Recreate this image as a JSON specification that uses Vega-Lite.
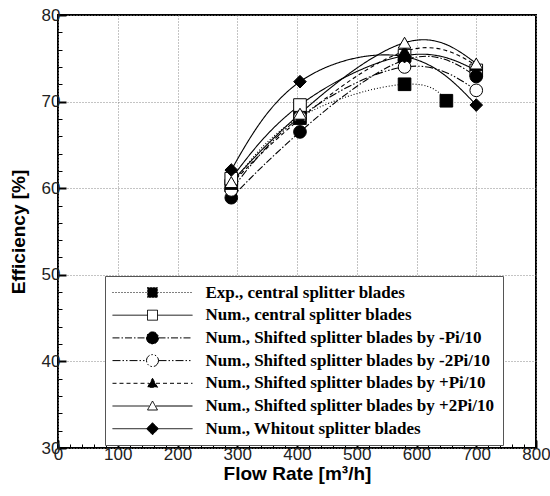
{
  "$schema": "https://vega.github.io/schema/vega-lite/v6.json",
  "width": 478,
  "height": 433,
  "autosize": {"type": "none"},
  "padding": {"left": 58, "top": 15, "right": 14, "bottom": 48},
  "background": "white",
  "config": {
    "view": {"stroke": "black", "strokeWidth": 2},
    "axis": {
      "domain": false,
      "ticks": true,
      "tickColor": "black",
      "tickOpacity": 1,
      "labelFont": "Liberation Sans",
      "labelFontSize": 17,
      "labelColor": "#222",
      "titleFont": "Liberation Sans",
      "titleFontSize": 19,
      "titleFontWeight": "bold",
      "titleColor": "black",
      "gridColor": "#888",
      "gridDash": [1, 2],
      "gridWidth": 1,
      "labelOverlap": false,
      "labelFlush": false,
      "tickCount": 200,
      "zindex": 1
    }
  },
  "datasets": {
    "curves": [
      {"series": "Exp., central splitter blades", "flow": 290, "eff": 60.3},
      {"series": "Exp., central splitter blades", "flow": 405, "eff": 68.2},
      {"series": "Exp., central splitter blades", "flow": 580, "eff": 72.0},
      {"series": "Exp., central splitter blades", "flow": 650, "eff": 70.1},
      {"series": "Num., central splitter blades", "flow": 290, "eff": 61.1},
      {"series": "Num., central splitter blades", "flow": 405, "eff": 69.6},
      {"series": "Num., central splitter blades", "flow": 580, "eff": 75.3},
      {"series": "Num., central splitter blades", "flow": 700, "eff": 73.6},
      {"series": "Num., Shifted splitter blades by -Pi/10", "flow": 290, "eff": 58.9},
      {"series": "Num., Shifted splitter blades by -Pi/10", "flow": 405, "eff": 66.5},
      {"series": "Num., Shifted splitter blades by -Pi/10", "flow": 580, "eff": 74.8},
      {"series": "Num., Shifted splitter blades by -Pi/10", "flow": 700, "eff": 72.9},
      {"series": "Num., Shifted splitter blades by -2Pi/10", "flow": 290, "eff": 59.8},
      {"series": "Num., Shifted splitter blades by -2Pi/10", "flow": 405, "eff": 68.2},
      {"series": "Num., Shifted splitter blades by -2Pi/10", "flow": 580, "eff": 74.0},
      {"series": "Num., Shifted splitter blades by -2Pi/10", "flow": 700, "eff": 71.3},
      {"series": "Num., Shifted splitter blades by +Pi/10", "flow": 290, "eff": 60.5},
      {"series": "Num., Shifted splitter blades by +Pi/10", "flow": 405, "eff": 68.0},
      {"series": "Num., Shifted splitter blades by +Pi/10", "flow": 580, "eff": 75.8},
      {"series": "Num., Shifted splitter blades by +Pi/10", "flow": 700, "eff": 74.2},
      {"series": "Num., Shifted splitter blades by +2Pi/10", "flow": 290, "eff": 60.7},
      {"series": "Num., Shifted splitter blades by +2Pi/10", "flow": 405, "eff": 68.6},
      {"series": "Num., Shifted splitter blades by +2Pi/10", "flow": 580, "eff": 76.8},
      {"series": "Num., Shifted splitter blades by +2Pi/10", "flow": 700, "eff": 74.4},
      {"series": "Num., Whitout splitter blades", "flow": 290, "eff": 62.1},
      {"series": "Num., Whitout splitter blades", "flow": 405, "eff": 72.3},
      {"series": "Num., Whitout splitter blades", "flow": 580, "eff": 75.2},
      {"series": "Num., Whitout splitter blades", "flow": 700, "eff": 69.6}
    ]
  },
  "data": {"name": "curves"},
  "resolve": {
    "scale": {"shape": "independent", "fill": "independent", "strokeDash": "independent", "stroke": "independent"},
    "axis": {"x": "independent", "y": "independent"}
  },
  "layer": [
    {
      "mark": {"type": "line", "interpolate": "natural", "color": "black", "strokeWidth": 1.1},
      "encoding": {
        "x": {
          "field": "flow", "type": "quantitative",
          "scale": {"domain": [0, 800], "nice": false, "zero": false},
          "axis": {
            "orient": "bottom",
            "title": "Flow Rate [m³/h]",
            "format": "d",
            "values": [0, 100, 200, 300, 400, 500, 600, 700, 800],
            "offset": -8,
            "tickSize": 8,
            "tickWidth": 2,
            "grid": true,
            "labelPadding": -2,
            "titlePadding": 2
          }
        },
        "y": {
          "field": "eff", "type": "quantitative",
          "scale": {"domain": [30, 80], "nice": false, "zero": false},
          "axis": {
            "orient": "left",
            "title": "Efficiency [%]",
            "format": "d",
            "values": [30, 40, 50, 60, 70, 80],
            "offset": -8,
            "tickSize": 8,
            "tickWidth": 2,
            "grid": true,
            "labelPadding": -2,
            "titlePadding": 13
          }
        },
        "detail": {"field": "series"},
        "strokeDash": {
          "field": "series", "type": "nominal", "legend": null,
          "scale": {
            "domain": ["Exp., central splitter blades", "Num., central splitter blades", "Num., Shifted splitter blades by -Pi/10", "Num., Shifted splitter blades by -2Pi/10", "Num., Shifted splitter blades by +Pi/10", "Num., Shifted splitter blades by +2Pi/10", "Num., Whitout splitter blades"],
            "range": [[1, 2], [1, 0], [7, 2, 1.5, 2], [8, 2, 1.5, 2, 1.5, 2], [4, 3], [1, 0], [1, 0]]
          }
        }
      }
    },
    {
      "mark": {"type": "point", "filled": true, "stroke": "black", "strokeWidth": 1, "size": 160, "opacity": 1},
      "encoding": {
        "x": {
          "field": "flow", "type": "quantitative",
          "axis": {
            "orient": "bottom",
            "title": null,
            "labels": false,
            "grid": false,
            "domain": false,
            "values": [20,40,60,80,120,140,160,180,220,240,260,280,320,340,360,380,420,440,460,480,520,540,560,580,620,640,660,680,720,740,760,780],
            "offset": -4,
            "tickSize": 4,
            "tickWidth": 1
          }
        },
        "y": {
          "field": "eff", "type": "quantitative",
          "axis": {
            "orient": "left",
            "title": null,
            "labels": false,
            "grid": false,
            "domain": false,
            "values": [32,34,36,38,42,44,46,48,52,54,56,58,62,64,66,68,72,74,76,78],
            "offset": -4,
            "tickSize": 4,
            "tickWidth": 1
          }
        },
        "shape": {
          "field": "series", "type": "nominal", "legend": null,
          "scale": {
            "domain": ["Exp., central splitter blades", "Num., central splitter blades", "Num., Shifted splitter blades by -Pi/10", "Num., Shifted splitter blades by -2Pi/10", "Num., Shifted splitter blades by +Pi/10", "Num., Shifted splitter blades by +2Pi/10", "Num., Whitout splitter blades"],
            "range": ["square", "square", "circle", "circle", "triangle-up", "triangle-up", "diamond"]
          }
        },
        "fill": {
          "field": "series", "type": "nominal", "legend": null,
          "scale": {
            "domain": ["Exp., central splitter blades", "Num., central splitter blades", "Num., Shifted splitter blades by -Pi/10", "Num., Shifted splitter blades by -2Pi/10", "Num., Shifted splitter blades by +Pi/10", "Num., Shifted splitter blades by +2Pi/10", "Num., Whitout splitter blades"],
            "range": ["black", "white", "black", "white", "black", "white", "black"]
          }
        }
      }
    },
    {
      "transform": [{"filter": "false"}],
      "mark": {"type": "point", "filled": true, "strokeWidth": 1, "size": 121, "opacity": 1},
      "encoding": {
        "shape": {
          "field": "series", "type": "nominal",
          "scale": {
            "domain": ["Exp., central splitter blades", "Num., central splitter blades", "Num., Shifted splitter blades by -Pi/10", "Num., Shifted splitter blades by -2Pi/10", "Num., Shifted splitter blades by +Pi/10", "Num., Shifted splitter blades by +2Pi/10", "Num., Whitout splitter blades"],
            "range": [
              "M-8,0H-1M1,0H8M-1,-1H1V1H-1Z",
              "M-8,0H-1M1,0H8M-1,-1H1V1H-1Z",
              "M-8,0H-1.2M1.2,0H8M1.2,0A1.2,1.2,0,1,1,-1.2,0A1.2,1.2,0,1,1,1.2,0Z",
              "M-8,0H-1.2M1.2,0H8M1.2,0A1.2,1.2,0,1,1,-1.2,0A1.2,1.2,0,1,1,1.2,0Z",
              "M-8,0H-0.7M0.7,0H8M0,-1L1,0.8H-1Z",
              "M-8,0H-0.7M0.7,0H8M0,-1L1,0.8H-1Z",
              "M-8,0H-1.2M1.2,0H8M0,-1.2L1.2,0L0,1.2L-1.2,0Z"
            ]
          },
          "legend": {
            "title": null,
            "orient": "none",
            "legendX": 47,
            "legendY": 261,
            "fillColor": "white",
            "strokeColor": "#555",
            "padding": 8,
            "rowPadding": 4.7,
            "symbolOffset": 31,
            "labelOffset": 44.5,
            "labelFont": "Liberation Serif",
            "labelFontSize": 17,
            "labelFontWeight": "bold",
            "labelColor": "black",
            "labelLimit": 400,
            "symbolStrokeWidth": 1,
            "symbolOpacity": 1,
            "zindex": 2
          }
        },
        "fill": {
          "field": "series", "type": "nominal",
          "scale": {
            "domain": ["Exp., central splitter blades", "Num., central splitter blades", "Num., Shifted splitter blades by -Pi/10", "Num., Shifted splitter blades by -2Pi/10", "Num., Shifted splitter blades by +Pi/10", "Num., Shifted splitter blades by +2Pi/10", "Num., Whitout splitter blades"],
            "range": ["black", "white", "black", "white", "black", "white", "black"]
          },
          "legend": {"title": null, "orient": "none", "legendX": 47, "legendY": 261}
        },
        "stroke": {
          "field": "series", "type": "nominal",
          "scale": {
            "domain": ["Exp., central splitter blades", "Num., central splitter blades", "Num., Shifted splitter blades by -Pi/10", "Num., Shifted splitter blades by -2Pi/10", "Num., Shifted splitter blades by +Pi/10", "Num., Shifted splitter blades by +2Pi/10", "Num., Whitout splitter blades"],
            "range": ["black", "black", "black", "black", "black", "black", "black"]
          },
          "legend": {"title": null, "orient": "none", "legendX": 47, "legendY": 261}
        },
        "strokeDash": {
          "field": "series", "type": "nominal",
          "scale": {
            "domain": ["Exp., central splitter blades", "Num., central splitter blades", "Num., Shifted splitter blades by -Pi/10", "Num., Shifted splitter blades by -2Pi/10", "Num., Shifted splitter blades by +Pi/10", "Num., Shifted splitter blades by +2Pi/10", "Num., Whitout splitter blades"],
            "range": [[1, 2], [1, 0], [7, 2, 1.5, 2], [8, 2, 1.5, 2, 1.5, 2], [4, 3], [1, 0], [1, 0]]
          },
          "legend": {"title": null, "orient": "none", "legendX": 47, "legendY": 261}
        }
      }
    }
  ]
}
